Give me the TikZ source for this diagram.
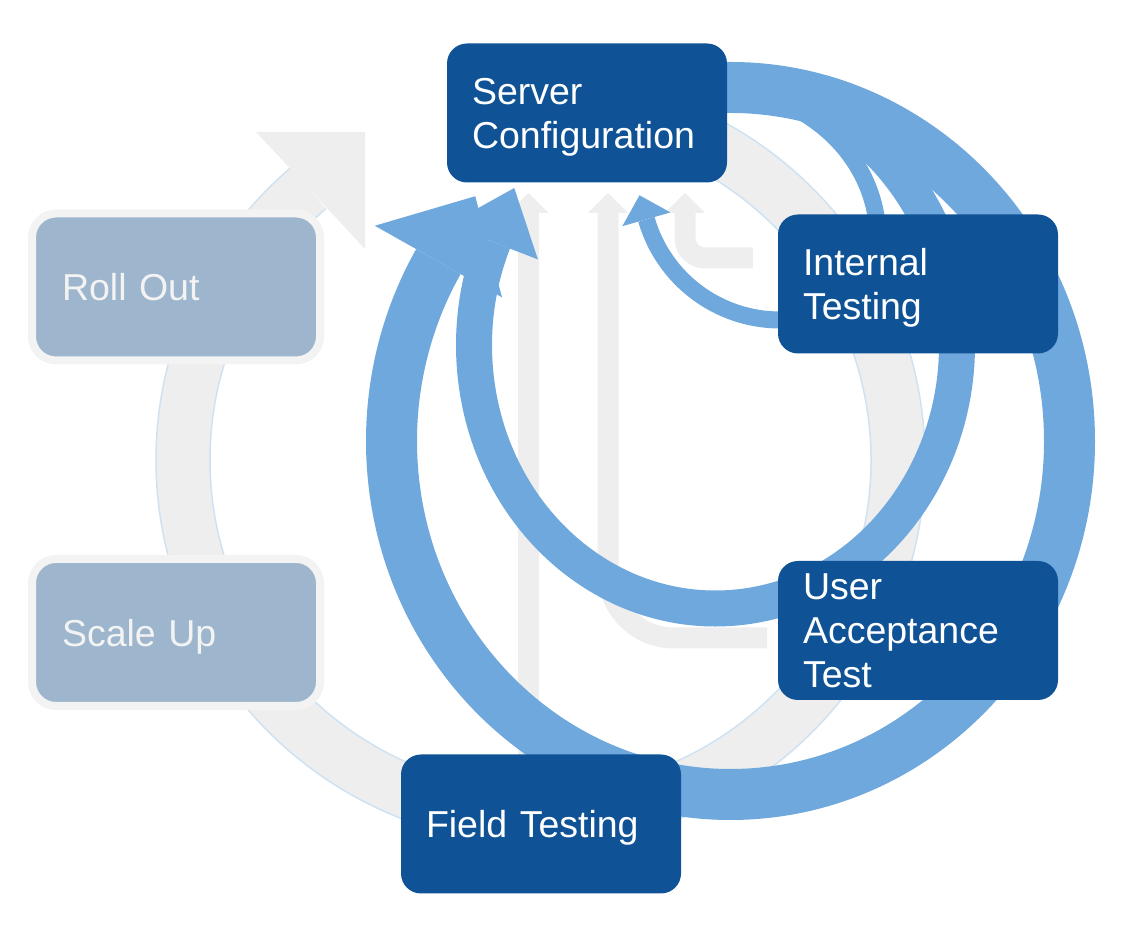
\documentclass[tikz,border=0pt]{standalone}
\usepackage{fontspec}
\setmainfont{Liberation Sans}
\usetikzlibrary{calc}

\definecolor{stageblue}{HTML}{0F5396}
\definecolor{loopblue}{HTML}{6FA8DC}
\definecolor{fadedblue}{HTML}{9DB5CD}
\definecolor{ringgrey}{HTML}{EEEEEE}
\definecolor{edgeblue}{HTML}{CFE2F3}
\definecolor{ghostgrey}{HTML}{F3F3F3}

% last line of a label: keep its height, drop its descender
\newcommand{\lastline}[1]{\raisebox{0pt}[\height][0pt]{#1}}

\tikzset{
  stage/.style={rounded corners=10pt, fill=stageblue, text=white,
    inner xsep=12.5pt, inner ysep=0pt, text width=115pt,
    minimum height=69.5pt, align=left,
    font=\fontsize{18.75}{22}\selectfont},
  faded/.style={rounded corners=12pt, fill=fadedblue, draw=ghostgrey,
    line width=4pt, text=ghostgrey, inner xsep=15pt, inner ysep=0pt,
    text width=114pt, minimum height=73.5pt, align=left,
    font=\fontsize{18.75}{22}\selectfont},
  ringedge/.style={edgeblue, line width=0.75pt},
  greyshaft/.style={ringgrey, line width=10.5pt},
  loopband/.style={loopblue},
}

\begin{document}
\begin{tikzpicture}[x=0.5pt,y=0.5pt]
\useasboundingbox (0,0) rectangle (1148,926);

\pgfmathsetmacro{\rin}{330.5};
\pgfmathsetmacro{\rmid}{357.5};
\pgfmathsetmacro{\rout}{384.5};

% grey cycle behind everything
\coordinate (ringC) at (540.5,466);
\draw[ringgrey, line width=27pt] ($(ringC)+(100:\rmid)$)
  arc[start angle=100, end angle=-229.5, radius=\rmid];
\draw[ringedge] ($(ringC)+(100:\rout)$)
  arc[start angle=100, end angle=-229.5, radius=\rout];
\draw[ringedge] ($(ringC)+(100:\rin)$)
  arc[start angle=100, end angle=-229.5, radius=\rin];
\fill[ringgrey] (256,794) -- (365,794) -- (365,677) -- cycle;

% grey straight arrows
\coordinate (g1s) at (528.5,171);
\coordinate (g1) at (528.5,713);
\coordinate (g2s) at (767,288);
\coordinate (g2) at (608,713);
\coordinate (g3s) at (753,668);
\coordinate (g3) at (685,713);

\draw[greyshaft] (g1s) -- (g1);
\draw[greyshaft, rounded corners=33pt] (g2s) -| (g2);
\draw[greyshaft, rounded corners=10pt] (g3s) -| (g3);
\foreach \g in {g1,g2,g3}
  \fill[ringgrey] ($(\g)+(-20,0)$) -- ($(\g)+(0,20)$) -- ($(\g)+(20,0)$) -- cycle;

\node[faded] (roll) at (176,639) {\lastline{Roll Out}};
\node[faded] (scale) at (176,293.5) {\lastline{Scale Up}};

% blue loops back to the configuration
\coordinate (bigC) at (730.5,485);
\draw[loopband, line width=25.5pt] ($(bigC)+(92:339 and 353.5)$)
  arc[start angle=92, end angle=-210.5, x radius=339, y radius=353.5];
\coordinate (bigB) at ($(bigC)+(149.5:339 and 353.5)$);
\fill[loopband] ($(bigB)+(60.6:75)$) -- ($(bigB)+(150.6:73)$)
  -- ($(bigB)+(-29.4:73)$) -- cycle;

\coordinate (midC) at (715.5,581);
\draw[loopband, line width=18pt] ($(midC)+(95:241.5 and 263.5)$)
  arc[start angle=95, end angle=-203, x radius=241.5, y radius=263.5];
\coordinate (midB) at ($(midC)+(157:241.5 and 263.5)$);
\fill[loopband] ($(midB)+(68.7:58)$) -- ($(midB)+(158.7:48)$)
  -- ($(midB)+(-21.3:48)$) -- cycle;

\coordinate (smlC) at (780,745);
\draw[loopband, line width=8.5pt] (712,838) to[out=0, in=90]
  (878,686) to[out=-90, in=0]
  (780,606) arc[start angle=270, end angle=196, radius=139];
\coordinate (smlB) at ($(smlC)+(196:139)$);
\fill[loopband] ($(smlB)+(106:25)$) -- ($(smlB)+(196:25)$)
  -- ($(smlB)+(16:25)$) -- cycle;

\node[stage] (srv) at (587,813) {Server\\\lastline{Configuration}};
\node[stage] (int) at (918,642) {Internal\\\lastline{Testing}};
\node[stage] (uat) at (918,295.5) {User\\Acceptance\\\lastline{Test}};
\node[stage] (fld) at (541,102) {\lastline{Field Testing}};

\end{tikzpicture}
\end{document}
